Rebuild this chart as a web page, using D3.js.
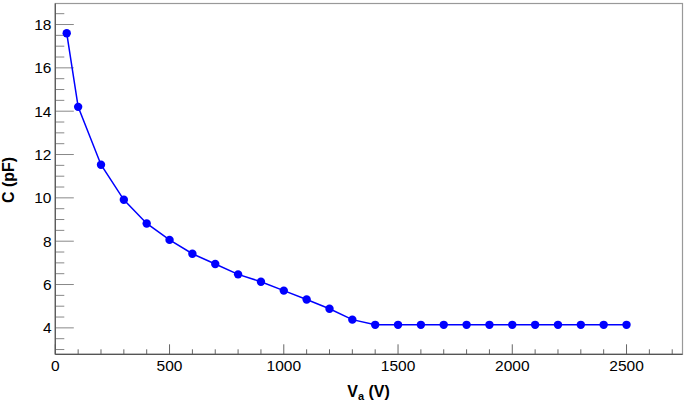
<!DOCTYPE html>
<html><head><meta charset="utf-8">
<script src="https://cdn.jsdelivr.net/npm/d3@7"></script>
<style>body{margin:0;background:#fff}svg{display:block}</style>
</head><body>
<svg id="c" width="685" height="400"></svg>
<script>
const voltages = [50,100,200,300,400,500,600,700,800,900,1000,1100,1200,1300,1400,1500,1600,1700,1800,1900,2000,2100,2200,2300,2400,2500];
const capacitance = [17.6,14.2,11.53,9.91,8.82,8.06,7.42,6.95,6.47,6.13,5.72,5.31,4.88,4.38,4.14,4.14,4.14,4.14,4.14,4.14,4.14,4.14,4.14,4.14,4.14,4.14];
const xTicks = [0,500,1000,1500,2000,2500];
const yTicks = [4,6,8,10,12,14,16,18];

const svg = d3.select("#c");
const L=55.3, R=682.5, T=3.5, B=354.3;
const x = d3.scaleLinear().domain([0,2745]).range([L,R]);
const y = d3.scaleLinear().domain([2.78,18.97]).range([B,T]);
const font = "'Liberation Sans', Arial, sans-serif";

// frame
svg.append("rect").attr("x",L).attr("y",T).attr("width",R-L).attr("height",B-T)
  .attr("fill","none").attr("stroke","#999").attr("stroke-width",1.2);

// minor/major ticks x (inward)
const xMinor = d3.range(0,2745,100);
svg.append("g").selectAll("line").data(xMinor).join("line")
  .attr("x1",d=>x(d)).attr("x2",d=>x(d)).attr("y1",B).attr("y2",d=>B-(d%500===0?10:5))
  .attr("stroke","#666").attr("stroke-width",1);
const yMinor = d3.range(3,19,0.5);
svg.append("g").selectAll("line").data(yMinor).join("line")
  .attr("y1",d=>y(d)).attr("y2",d=>y(d)).attr("x1",L).attr("x2",d=>L+(d%2===0?18.5:9))
  .attr("stroke","#888").attr("stroke-width",1);

// axes lines
svg.append("line").attr("x1",L).attr("x2",R).attr("y1",B).attr("y2",B).attr("stroke","#555").attr("stroke-width",1.2);
svg.append("line").attr("x1",L).attr("x2",L).attr("y1",T).attr("y2",B).attr("stroke","#555").attr("stroke-width",1.2);

// tick labels
svg.append("g").selectAll("text").data(xTicks).join("text")
  .attr("x",d=>x(d)).attr("y",371).attr("text-anchor","middle")
  .attr("font-family",font).attr("font-size",15.5).attr("fill","#000").text(d=>d);
svg.append("g").selectAll("text").data(yTicks).join("text")
  .attr("x",51.5).attr("y",d=>y(d)).attr("dy","0.36em").attr("text-anchor","end")
  .attr("font-family",font).attr("font-size",15.5).attr("fill","#000").text(d=>d);

// titles
const xt = svg.append("text").attr("x",368.5).attr("y",396.5).attr("text-anchor","middle")
  .attr("font-family",font).attr("font-size",16).attr("font-weight","bold");
xt.append("tspan").text("V");
xt.append("tspan").attr("font-size",11).attr("dy",3).text("a");
xt.append("tspan").attr("dy",-3).text(" (V)");
svg.append("text").attr("transform","translate(14,180) rotate(-90)").attr("text-anchor","middle")
  .attr("font-family",font).attr("font-size",16).attr("font-weight","bold").text("C (pF)");

// data
const pts = voltages.map((v,i)=>[v,capacitance[i]]);
svg.append("path").datum(pts).attr("fill","none").attr("stroke","#0000ff").attr("stroke-width",1.5)
  .attr("d",d3.line().x(d=>x(d[0])).y(d=>y(d[1])));
svg.append("g").selectAll("circle").data(pts).join("circle")
  .attr("cx",d=>x(d[0])).attr("cy",d=>y(d[1])).attr("r",4.2).attr("fill","#0000ff");
</script>
</body></html>
